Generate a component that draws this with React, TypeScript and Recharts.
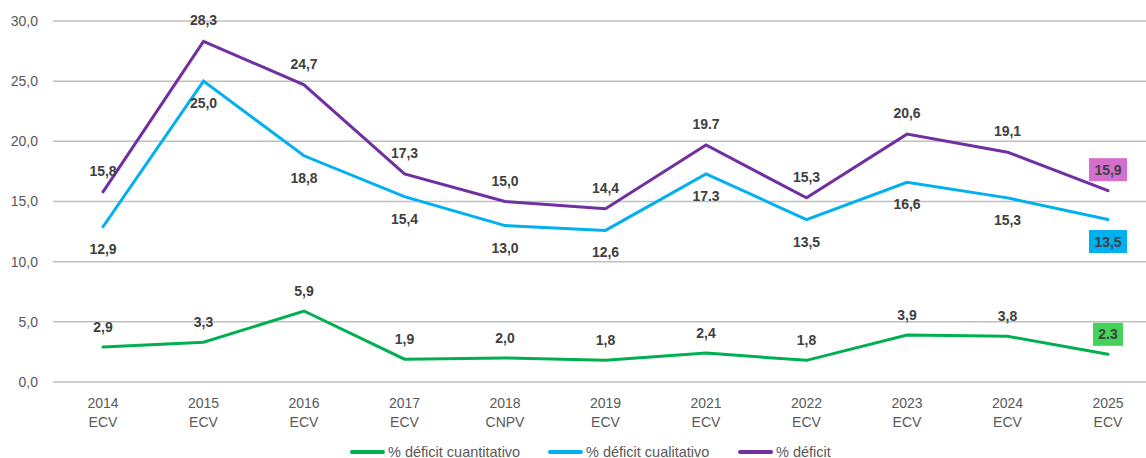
import { LineChart, Line, XAxis, YAxis, CartesianGrid, LabelList } from 'recharts';

const years = ['2014', '2015', '2016', '2017', '2018', '2019', '2021', '2022', '2023', '2024', '2025'];
const sources = ['ECV', 'ECV', 'ECV', 'ECV', 'CNPV', 'ECV', 'ECV', 'ECV', 'ECV', 'ECV', 'ECV'];

const cuantitativo = [2.9, 3.3, 5.9, 1.9, 2.0, 1.8, 2.4, 1.8, 3.9, 3.8, 2.3];
const cualitativo = [12.9, 25.0, 18.8, 15.4, 13.0, 12.6, 17.3, 13.5, 16.6, 15.3, 13.5];
const deficit = [15.8, 28.3, 24.7, 17.3, 15.0, 14.4, 19.7, 15.3, 20.6, 19.1, 15.9];

// label texts as printed in the source (mixed decimal separators)
const cuantitativoLabels = ['2,9', '3,3', '5,9', '1,9', '2,0', '1,8', '2,4', '1,8', '3,9', '3,8', '2.3'];
const cualitativoLabels = ['12,9', '25,0', '18,8', '15,4', '13,0', '12,6', '17.3', '13,5', '16,6', '15,3', '13,5'];
const deficitLabels = ['15,8', '28,3', '24,7', '17,3', '15,0', '14,4', '19.7', '15,3', '20,6', '19,1', '15,9'];

const yTicks = [0, 5, 10, 15, 20, 25, 30];

const data = years.map((year, i) => ({
  year,
  cuantitativo: cuantitativo[i],
  cualitativo: cualitativo[i],
  deficit: deficit[i],
}));

const FONT = '"Liberation Sans", Arial, sans-serif';
const GREEN = '#00B050';
const BLUE = '#00B0F0';
const PURPLE = '#7030A0';

function textWidth(s: string) {
  let w = 0;
  for (const ch of s) w += ch === ',' || ch === '.' ? 4 : 8;
  return w;
}

function makeLabel(labels: string[], offset: number, boxColor: string) {
  return (props: any) => {
    const { x, y, index } = props;
    if (x == null || y == null) return null;
    const txt = labels[index];
    const cy = y + offset;
    const last = index === labels.length - 1;
    return (
      <g>
        {last && (
          <rect x={x - textWidth(txt) / 2 - 5} y={cy - 11.5} width={textWidth(txt) + 10} height={23} fill={boxColor} />
        )}
        <text
          x={x}
          y={cy}
          textAnchor="middle"
          dominantBaseline="central"
          fill="#404040"
          fontSize={14}
          fontWeight="bold"
          fontFamily={FONT}
        >
          {txt}
        </text>
      </g>
    );
  };
}

function XTick({ x, y, payload }: any) {
  const i = years.indexOf(payload.value);
  return (
    <text x={x} y={y} textAnchor="middle" fill="#595959" fontSize={14} fontFamily={FONT}>
      <tspan x={x} dy={26}>{payload.value}</tspan>
      <tspan x={x} dy={19}>{sources[i]}</tspan>
    </text>
  );
}

const legendItems = [
  { name: '% déficit cuantitativo', color: GREEN, left: 350 },
  { name: '% déficit cualitativo', color: BLUE, left: 548 },
  { name: '% déficit', color: PURPLE, left: 738 },
];

export default function App() {
  return (
    <div style={{ position: 'absolute', left: 0, top: 0, width: 1146, height: 458, background: '#fff', fontFamily: FONT }}>
      <LineChart width={1146} height={458} data={data} margin={{ top: 21, right: 0, left: 0, bottom: 18 }}>
        <CartesianGrid vertical={false} stroke="#BFBFBF" strokeWidth={1.5} />
        <XAxis
          dataKey="year"
          axisLine={false}
          tickLine={false}
          tickSize={0}
          tickMargin={0}
          height={58}
          interval={0}
          padding={{ left: 50, right: 38 }}
          tick={<XTick />}
        />
        <YAxis
          domain={[0, 30]}
          ticks={yTicks}
          width={53}
          axisLine={false}
          tickLine={false}
          tickSize={0}
          tickMargin={15}
          tick={{ fill: '#595959', fontSize: 14, fontFamily: FONT }}
          tickFormatter={(v) => v.toFixed(1).replace('.', ',')}
        />
        <Line type="linear" dataKey="cuantitativo" stroke={GREEN} strokeWidth={3} strokeLinecap="round" dot={false} isAnimationActive={false}>
          <LabelList dataKey="cuantitativo" content={makeLabel(cuantitativoLabels, -20, '#45D15A')} />
        </Line>
        <Line type="linear" dataKey="cualitativo" stroke={BLUE} strokeWidth={3} strokeLinecap="round" dot={false} isAnimationActive={false}>
          <LabelList dataKey="cualitativo" content={makeLabel(cualitativoLabels, 22, '#00B0F0')} />
        </Line>
        <Line type="linear" dataKey="deficit" stroke={PURPLE} strokeWidth={3} strokeLinecap="round" dot={false} isAnimationActive={false}>
          <LabelList dataKey="deficit" content={makeLabel(deficitLabels, -21, '#D46FCE')} />
        </Line>
      </LineChart>
      {legendItems.map((it) => (
        <div key={it.name} style={{ position: 'absolute', left: it.left, top: 443, display: 'flex', alignItems: 'center', height: 18 }}>
          <span style={{ display: 'inline-block', width: 35, height: 4, borderRadius: 2, background: it.color, marginRight: 3 }} />
          <span style={{ fontSize: 14.5, color: '#595959', whiteSpace: 'nowrap' }}>{it.name}</span>
        </div>
      ))}
    </div>
  );
}
